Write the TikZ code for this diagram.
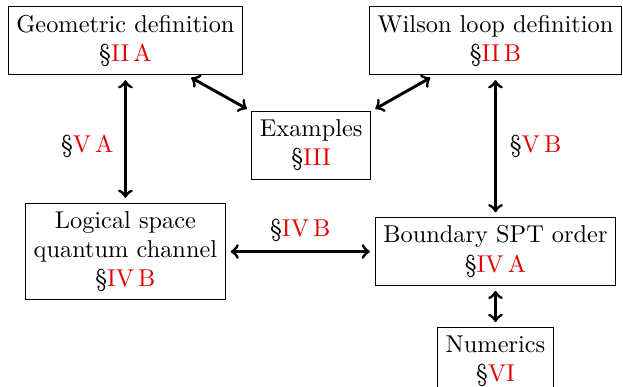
\documentclass[tikz,border=0pt]{standalone}
\usepackage{xcolor}
\newcommand{\secref}[1]{\S\textcolor{red!90!black}{#1}}
\begin{document}
\begin{tikzpicture}[very thick]
  \tikzstyle{box}=[draw,thin,align=center]
  \tikzstyle{link}=[<->,shorten >=2pt,shorten <=2pt]
  \useasboundingbox (0,0) rectangle (8.99,-5.57);
  \node[box] (B_geo) at (1.81,-0.59) {Geometric definition\\\secref{II\,A}};
  \node[box] (B_wil) at (7.15,-0.59) {Wilson loop definition\\\secref{II\,B}};
  \node[box] (B_ex)  at (4.49,-2.10) {Examples\\\secref{III}};
  \node[box] (B_log) at (1.81,-3.63) {Logical space\\quantum channel\\\secref{IV\,B}};
  \node[box] (B_bnd) at (7.15,-3.63) {Boundary SPT order\\\secref{IV\,A}};
  \node[box] (B_num) at (7.15,-5.21) {Numerics\\\secref{VI}};
  \draw [link] (B_geo) -- node[pos=0.56,left=1pt] {\secref{V\,A}} (B_log);
  \draw [link] (B_wil) -- node[right=2pt] {\secref{V\,B}} (B_bnd);
  \draw [link] (B_log) -- node[above=0pt] {\secref{IV\,B}} (B_bnd);
  \draw [link] (B_ex.north west) -- (B_geo);
  \draw [link] (B_ex.north east) -- (B_wil);
  \draw [link] (B_bnd) -- (B_num);
\end{tikzpicture}
\end{document}
